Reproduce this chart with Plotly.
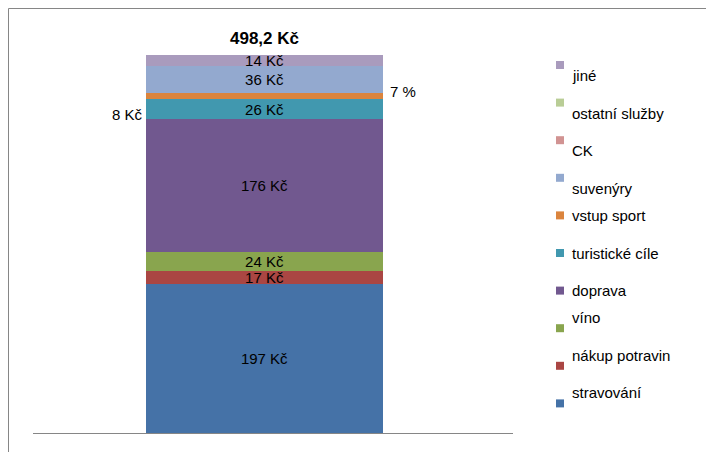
import plotly.graph_objects as go

categories = ["stravování", "nákup potravin", "víno", "doprava", "turistické cíle",
              "vstup sport", "suvenýry", "CK", "ostatní služby", "jiné"]
values = [197, 17, 24, 176, 26, 8, 36, 0, 0, 14]
labels = ["197 Kč", "17 Kč", "24 Kč", "176 Kč", "26 Kč", "", "36 Kč", "", "", "14 Kč"]
colors = ["#4572A7", "#AA4643", "#89A54E", "#71588F", "#4198AF",
          "#DB843D", "#93A9CF", "#D19392", "#B9CD96", "#A99BBD"]
total_label = "498,2 Kč"

L, T, W, H = 25, 47, 480, 378


def px(x):
    return (x - L) / W


def py(y):
    return (T + H - y) / H


fig = go.Figure()
for name, v, lab, c in zip(categories, values, labels, colors):
    fig.add_trace(go.Bar(
        x=[0], y=[v], name=name, marker=dict(color=c, line=dict(width=0)),
        text=[lab], textposition="inside", insidetextanchor="middle",
        textangle=0, constraintext="none",
        textfont=dict(size=15, color="#000000"),
    ))

# manual legend, top entry = last series
for k, (name, c) in enumerate(zip(reversed(categories), reversed(colors))):
    yc = 57 + k * 37.6
    fig.add_shape(type="rect", xref="paper", yref="paper",
                  x0=px(548), x1=px(556), y0=py(yc + 4), y1=py(yc - 4),
                  fillcolor=c, line=dict(width=0))
    fig.add_annotation(xref="paper", yref="paper", x=px(562), y=py(yc), text=name,
                       xanchor="left", showarrow=False, font=dict(size=15, color="#000"))

fig.add_annotation(x=0, y=498.2, text="<b>%s</b>" % total_label, showarrow=False,
                   yanchor="bottom", yshift=5, font=dict(size=17, color="#000"))
fig.add_annotation(xref="paper", yref="paper", x=px(102), y=py(96), text="8 Kč",
                   showarrow=False, font=dict(size=15, color="#000"))
fig.add_annotation(xref="paper", yref="paper", x=px(410), y=py(73), text="7 %",
                   showarrow=False, font=dict(size=15, color="#000"))

fig.add_shape(type="rect", xref="paper", yref="paper",
              x0=px(0.5), x1=px(713), y0=py(451), y1=py(0.5),
              line=dict(color="#868686", width=1))

fig.update_layout(
    width=714, height=452, barmode="stack", bargap=0.505,
    margin=dict(l=L, r=714 - L - W, t=T, b=452 - T - H, autoexpand=False),
    plot_bgcolor="white", paper_bgcolor="white",
    font=dict(family="Liberation Sans, Arial", size=15, color="#000"),
    showlegend=False,
    xaxis=dict(range=[-0.4835, 0.519], showticklabels=False, showline=True,
               linecolor="#868686", ticks="", showgrid=False, zeroline=False),
    yaxis=dict(range=[0, 498.2], visible=False),
)
fig.write_html("out.html")
